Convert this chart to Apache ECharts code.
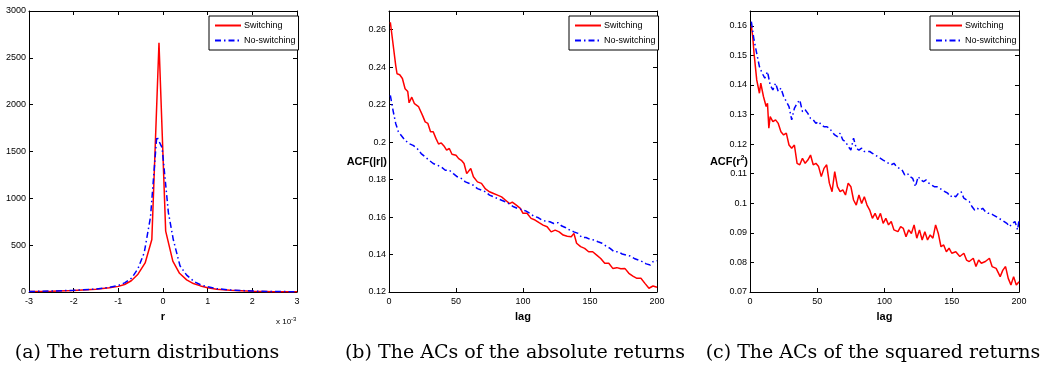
<!DOCTYPE html>
<html>
<head>
<meta charset="utf-8">
<script src="https://cdn.jsdelivr.net/npm/echarts@6/dist/echarts.min.js"></script>
<style>
html, body { margin: 0; padding: 0; background: #fff; }
#main { width: 1062px; height: 372px; }
</style>
</head>
<body>
<div id="main"></div>
<script>
// (a) return distributions, r in units of 1e-3
const rSwitch = [-3, -2.5, -2, -1.5, -1.2, -1.0, -0.86, -0.71, -0.56, -0.40, -0.25, -0.09, 0.06, 0.22, 0.37, 0.53, 0.68, 0.84, 1.0, 1.2, 1.5, 2, 2.5, 3];
const densSwitch = [5, 8, 15, 30, 45, 60, 80, 120, 190, 310, 560, 2660, 650, 330, 200, 130, 90, 65, 45, 30, 18, 8, 4, 3];
const rNoSwitch = [-3, -2.5, -2, -1.5, -1.2, -1.0, -0.85, -0.7, -0.56, -0.42, -0.28, -0.14, -0.02, 0.12, 0.23, 0.38, 0.53, 0.7, 0.85, 1.0, 1.2, 1.5, 2, 2.5, 3];
const densNoSwitch = [5, 10, 18, 32, 50, 70, 100, 150, 250, 420, 800, 1660, 1540, 850, 560, 280, 180, 110, 75, 55, 35, 22, 10, 5, 3];

// (b) ACF of absolute returns
const lagSwitchB = [1, 2, 5, 6, 8, 10, 12, 14, 15, 17, 19, 22, 25, 27, 29, 31, 33, 35, 37, 39, 41, 43, 45, 47, 50, 52, 54, 56, 58, 59, 61, 63, 66, 69, 72, 75, 78, 81, 84, 87, 90, 92, 95, 98, 100, 103, 106, 109, 112, 115, 118, 121, 124, 127, 130, 133, 136, 138, 140, 143, 146, 149, 152, 155, 158, 161, 164, 167, 170, 173, 176, 179, 182, 185, 188, 191, 194, 197, 200];
const acfSwitchB = [0.264, 0.263, 0.241, 0.2365, 0.236, 0.234, 0.2285, 0.227, 0.221, 0.224, 0.2205, 0.219, 0.2143, 0.2108, 0.210, 0.2055, 0.2055, 0.202, 0.199, 0.1996, 0.198, 0.1957, 0.1966, 0.1935, 0.193, 0.1912, 0.1903, 0.1886, 0.1832, 0.1824, 0.1859, 0.1815, 0.1788, 0.178, 0.175, 0.1735, 0.1726, 0.1717, 0.1708, 0.169, 0.1672, 0.168, 0.1664, 0.1646, 0.162, 0.162, 0.1593, 0.1584, 0.157, 0.1557, 0.1548, 0.1521, 0.153, 0.1521, 0.1504, 0.1498, 0.1495, 0.1513, 0.146, 0.1442, 0.1433, 0.1415, 0.1415, 0.1397, 0.1379, 0.1353, 0.1353, 0.1326, 0.133, 0.1324, 0.1326, 0.130, 0.1285, 0.1273, 0.1273, 0.1246, 0.122, 0.1232, 0.1225];
const lagNoSwitchB = [1, 3, 5, 7, 9, 12, 15, 18, 21, 24, 27, 30, 33, 36, 39, 42, 45, 48, 51, 54, 57, 60, 63, 66, 69, 72, 75, 78, 81, 84, 87, 90, 93, 96, 99, 102, 105, 108, 111, 114, 117, 120, 123, 126, 129, 132, 135, 138, 141, 144, 147, 150, 153, 156, 159, 162, 165, 168, 171, 174, 177, 180, 183, 186, 189, 192, 195, 197, 200];
const acfNoSwitchB = [0.225, 0.217, 0.210, 0.2055, 0.2037, 0.201, 0.1992, 0.1983, 0.1966, 0.1939, 0.1921, 0.1903, 0.1886, 0.1877, 0.1868, 0.185, 0.185, 0.1832, 0.1815, 0.1806, 0.1788, 0.1779, 0.177, 0.1752, 0.1744, 0.1735, 0.1717, 0.1708, 0.1699, 0.169, 0.1681, 0.1669, 0.1655, 0.1646, 0.164, 0.1633, 0.162, 0.1605, 0.1598, 0.1584, 0.1578, 0.1575, 0.1566, 0.157, 0.1552, 0.1543, 0.153, 0.1521, 0.1513, 0.1491, 0.1491, 0.1481, 0.1477, 0.1468, 0.146, 0.1445, 0.1433, 0.1415, 0.1415, 0.1403, 0.1397, 0.1392, 0.1379, 0.1371, 0.1362, 0.135, 0.1344, 0.1362, 0.1367];

// (c) ACF of squared returns
const lagSwitchC = [1, 2, 3, 4, 5, 7, 8, 10, 12, 13, 14, 15, 17, 19, 21, 23, 25, 27, 29, 31, 33, 35, 37, 39, 41, 43, 45, 47, 49, 51, 53, 55, 57, 59, 61, 63, 65, 67, 69, 71, 73, 75, 77, 79, 81, 83, 85, 87, 89, 91, 93, 95, 97, 99, 101, 103, 105, 107, 110, 112, 114, 116, 118, 120, 122, 124, 126, 128, 130, 132, 134, 136, 138, 140, 142, 144, 146, 148, 150, 153, 156, 159, 161, 163, 166, 168, 170, 172, 175, 178, 180, 183, 186, 188, 190, 192, 194, 196, 198, 200];
const acfSwitchC = [0.160, 0.1564, 0.1507, 0.1462, 0.1417, 0.1372, 0.1406, 0.1361, 0.1327, 0.1338, 0.1254, 0.1293, 0.1276, 0.1282, 0.1270, 0.1242, 0.1231, 0.1237, 0.1197, 0.1186, 0.1197, 0.1135, 0.1130, 0.1152, 0.1135, 0.1146, 0.1163, 0.1130, 0.1135, 0.1124, 0.1090, 0.1118, 0.1130, 0.1068, 0.1039, 0.1107, 0.1056, 0.1039, 0.1045, 0.1028, 0.1068, 0.1056, 0.1011, 0.0994, 0.1028, 0.0999, 0.1022, 0.0994, 0.0977, 0.0949, 0.0966, 0.0944, 0.0966, 0.0932, 0.0949, 0.0927, 0.0938, 0.0910, 0.0904, 0.0921, 0.0915, 0.0887, 0.0910, 0.0898, 0.0927, 0.0882, 0.0910, 0.0876, 0.0904, 0.0876, 0.0893, 0.0882, 0.0927, 0.0898, 0.0853, 0.0859, 0.0836, 0.0848, 0.0831, 0.0836, 0.0820, 0.0831, 0.0808, 0.0803, 0.0814, 0.0786, 0.0808, 0.0797, 0.0803, 0.0814, 0.0786, 0.0780, 0.0752, 0.0774, 0.0786, 0.0746, 0.0724, 0.0752, 0.0724, 0.0735];
const lagNoSwitchC = [1, 3, 5, 7, 9, 11, 13, 15, 17, 19, 21, 23, 25, 27, 29, 31, 33, 35, 37, 39, 41, 43, 45, 47, 49, 51, 53, 55, 57, 59, 61, 63, 65, 67, 69, 71, 73, 75, 77, 79, 81, 83, 85, 87, 89, 91, 93, 95, 97, 99, 101, 103, 105, 107, 109, 111, 113, 115, 117, 119, 121, 123, 125, 127, 129, 131, 133, 135, 137, 139, 141, 143, 145, 147, 149, 151, 153, 155, 157, 159, 161, 163, 165, 167, 169, 171, 173, 175, 177, 179, 181, 183, 185, 187, 189, 191, 193, 195, 197, 199, 200];
const acfNoSwitchC = [0.1614, 0.1552, 0.1507, 0.1462, 0.1440, 0.1423, 0.1445, 0.1400, 0.1383, 0.1406, 0.1378, 0.1389, 0.1361, 0.1344, 0.1327, 0.1282, 0.1321, 0.1338, 0.1349, 0.1310, 0.1316, 0.1304, 0.1287, 0.1282, 0.1270, 0.1276, 0.1265, 0.1259, 0.1259, 0.1254, 0.1242, 0.1231, 0.1225, 0.1237, 0.1214, 0.1208, 0.1192, 0.1180, 0.1220, 0.1186, 0.1180, 0.1186, 0.1175, 0.1175, 0.1175, 0.1169, 0.1163, 0.1158, 0.1152, 0.1146, 0.1141, 0.1135, 0.1130, 0.1135, 0.1124, 0.1118, 0.1113, 0.1096, 0.1101, 0.1090, 0.1084, 0.1056, 0.1090, 0.1079, 0.1073, 0.1079, 0.1068, 0.1062, 0.1056, 0.1056, 0.1051, 0.1045, 0.1039, 0.1034, 0.1022, 0.1028, 0.1022, 0.1034, 0.1039, 0.1017, 0.1011, 0.1006, 0.0989, 0.0977, 0.0983, 0.0977, 0.0983, 0.0972, 0.0966, 0.0966, 0.0960, 0.0955, 0.0949, 0.0944, 0.0938, 0.0932, 0.0921, 0.0932, 0.0938, 0.0910, 0.0944];

const captions = ['(a) The return distributions', '(b) The ACs of the absolute returns', '(c) The ACs of the squared returns'];

const zip = (xs, ys) => xs.map((x, i) => [x, ys[i]]);
const sansFont = "'Liberation Sans', Arial, sans-serif";
const serifFont = "'DejaVu Serif', 'Liberation Serif', serif";

const chart = echarts.init(document.getElementById('main'));

const grids = [
    { left: 29, top: 11, width: 268, height: 281 },
    { left: 389, top: 11, width: 268, height: 281 },
    { left: 750, top: 11, width: 269, height: 281 }
];
const xRanges = [
    { min: -3, max: 3, interval: 1, name: 'r' },
    { min: 0, max: 200, interval: 50, name: 'lag' },
    { min: 0, max: 200, interval: 50, name: 'lag' }
];
const yRanges = [
    { min: 0, max: 3000, interval: 500 },
    { min: 0.12, max: 0.27, interval: 0.02 },
    { min: 0.07, max: 0.165, interval: 0.01 }
];

const tick = { show: true, inside: true, length: 4, lineStyle: { color: '#000', width: 1 } };
const line = { show: true, onZero: false, lineStyle: { color: '#000', width: 1 } };

const xAxes = [];
const yAxes = [];
[0, 1, 2].forEach(i =>
{
    [false, true].forEach(mirror =>
    {
        xAxes.push({
            type: 'value', gridIndex: i, position: mirror ? 'top' : 'bottom',
            min: xRanges[i].min, max: xRanges[i].max, interval: xRanges[i].interval,
            name: mirror ? '' : xRanges[i].name, nameLocation: 'middle', nameGap: 19,
            nameTextStyle: { fontFamily: sansFont, fontWeight: 'bold', fontSize: 11, color: '#000' },
            axisLine: line, axisTick: tick,
            axisLabel: { show: !mirror, margin: 5, fontSize: 9, color: '#000', fontFamily: sansFont },
            splitLine: { show: false }
        });
        yAxes.push({
            type: 'value', gridIndex: i, position: mirror ? 'right' : 'left',
            min: yRanges[i].min, max: yRanges[i].max, interval: yRanges[i].interval,
            axisLine: line, axisTick: tick,
            axisLabel: {
                show: !mirror, margin: 3, fontSize: 9, color: '#000', fontFamily: sansFont, showMaxLabel: i === 0,
                formatter: i === 0 ? (v => String(v)) : null
            },
            splitLine: { show: false }
        });
    });
});

const red = { color: '#ff0000', width: 1.5 };
const blue = { color: '#0000ff', width: 1.5, type: [6, 3, 1.5, 3] };
const mk = (name, idx, data, style) => ({
    type: 'line', name, xAxisIndex: idx * 2, yAxisIndex: idx * 2, data,
    showSymbol: false, symbol: 'none', lineStyle: style, itemStyle: { color: style.color }
});

const series = [
    mk('Switching', 0, zip(rSwitch, densSwitch), red),
    mk('No-switching', 0, zip(rNoSwitch, densNoSwitch), blue),
    mk('Switching', 1, zip(lagSwitchB, acfSwitchB), red),
    mk('No-switching', 1, zip(lagNoSwitchB, acfNoSwitchB), blue),
    mk('Switching', 2, zip(lagSwitchC, acfSwitchC), red),
    mk('No-switching', 2, zip(lagNoSwitchC, acfNoSwitchC), blue)
];

// legend boxes, symbol hidden so only the line sample shows
const legends = [209, 569, 930].map(left => ({
    left, top: 16, orient: 'vertical', itemWidth: 26, itemHeight: 8, itemGap: 6,
    padding: [5, 3, 5, 5], backgroundColor: '#fff', borderColor: '#000', borderWidth: 1,
    itemStyle: { opacity: 0 },
    textStyle: { fontFamily: sansFont, fontSize: 9, color: '#000', padding: [0, 0, 0, -2] },
    data: ['Switching', 'No-switching']
}));

const labelBold = { fontFamily: sansFont, fontWeight: 'bold', fontSize: 11, color: '#000' };
const graphic = [
    {
        type: 'text', x: 387, y: 162,
        style: { text: 'ACF(|r|)', font: 'bold 11px ' + sansFont, fill: '#000', align: 'right', verticalAlign: 'middle' }
    },
    {
        type: 'text', x: 748, y: 162,
        style: {
            text: '{n|ACF(r}{s|2}{n|)}', fill: '#000', align: 'right', verticalAlign: 'middle',
            rich: { n: labelBold, s: { ...labelBold, fontSize: 7, padding: [0, 0, 7, 0] } }
        }
    },
    {
        type: 'text', x: 276, y: 316,
        style: {
            text: '{n|x 10}{s|-3}', fill: '#000',
            rich: { n: { fontFamily: sansFont, fontSize: 8, color: '#000' }, s: { fontFamily: sansFont, fontSize: 6, color: '#000', padding: [0, 0, 5, 0] } }
        }
    }
].concat(captions.map((t, i) => ({
    type: 'text', x: [147, 515, 873][i], y: 353,
    style: { text: t, font: '19px ' + serifFont, fill: '#000', align: 'center', verticalAlign: 'middle' }
})));

chart.setOption({
    animation: false,
    backgroundColor: '#fff',
    grid: grids,
    xAxis: xAxes,
    yAxis: yAxes,
    legend: legends,
    series,
    graphic
});
</script>
</body>
</html>
